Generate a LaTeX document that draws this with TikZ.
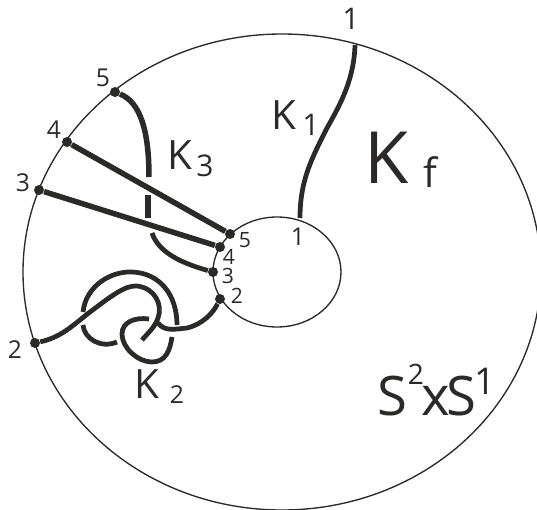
\documentclass[tikz,border=0pt]{standalone}
\usepackage{fontspec}
\setmainfont{Open Sans}
\usepackage{tikz}
\usetikzlibrary{positioning,shapes.geometric}
\definecolor{ink}{HTML}{2B2A29}
\begin{document}
\begin{tikzpicture}[
  x=0.2mm,y=-0.2mm,
  rim/.style={draw=ink,line width=0.27mm},
  strand/.style={draw=ink,line width=1.1mm},
  knot/.style={draw=ink,line width=0.95mm},
  pt/.style={circle,fill=ink,inner sep=0pt,minimum size=2mm},
  num/.style={text=ink,font=\fontsize{14}{16}\selectfont,inner sep=0pt},
  tiny/.style={text=ink,font=\fontsize{12}{14}\selectfont,inner sep=0pt},
  big/.style={text=ink,font=\fontsize{41}{46}\selectfont,inner sep=0pt},
  mid/.style={text=ink,font=\fontsize{23}{26}\selectfont,inner sep=0pt},
  lowr/.style={text=ink,font=\fontsize{17}{20}\selectfont,inner sep=0pt},
  solid3/.style={text=ink,font=\fontsize{31}{36}\selectfont,inner sep=0pt}]
\useasboundingbox (0,0) rectangle (537,510);
\clip (0,0) rectangle (537,510);
% boundary spheres
\node[rim,ellipse,minimum width=518*0.2mm,minimum height=476*0.2mm,inner sep=0pt] (outer) at (282,272) {};
\node[rim,ellipse,minimum width=128*0.2mm,minimum height=110*0.2mm,inner sep=0pt] (inner) at (277,272) {};
% end points
\node[pt] (o5) at (115,92) {};
\node[pt] (o4) at (67,142) {};
\node[pt] (o3) at (39,190) {};
\node[pt] (o2) at (35,343) {};
\node[pt] (i5) at (230,234) {};
\node[pt] (i4) at (220,247) {};
\node[pt] (i3) at (213,272) {};
\node[pt] (i2) at (220,299) {};
% K1
\coordinate (o1) at (355,45);
\coordinate (i1) at (300,218);
\draw[strand,line width=0.95mm] (o1) .. controls (354,80) and (340,105) .. (327,128)
  .. controls (312,158) and (300,180) .. (i1);
% K3
\coordinate (a1) at (149,177);
\coordinate (a2) at (148,195);
\coordinate (a3) at (148,218);
\coordinate (a4) at (152,233);
\draw[strand] (o4) -- (i5);
\draw[strand] (o3) -- (i4);
\draw[strand,line cap=butt] (o5) .. controls (140,102) and (149,130) .. (a1);
\draw[strand,line cap=butt] (a2) -- (a3);
\draw[knot,line cap=butt] (a4) .. controls (159,254) and (185,264) .. (i3);
% K2
\coordinate (b1) at (142,340);
\coordinate (b2) at (83,312);
\coordinate (b3) at (177,325);
\coordinate (b4) at (83,325);
\coordinate (b5) at (117,342);
\coordinate (b6) at (149,319);
\coordinate (b7) at (172,337);
\coordinate (b8) at (158,323);
\draw[knot] (o2) .. controls (62,337) and (73,325) .. (90,312)
  .. controls (110,297) and (125,285) .. (137,286)
  .. controls (155,288) and (163,305) .. (158,318)
  .. controls (155,327) and (148,333) .. (b1);
\draw[knot,line cap=butt] (b2) .. controls (86,285) and (112,271) .. (132,272)
  .. controls (160,273) and (177,295) .. (b3);
\draw[knot,line cap=butt] (b4) .. controls (84,338) and (100,349) .. (b5);
\draw[knot,line cap=butt] (b6) .. controls (135,317) and (122,322) .. (122,334)
  .. controls (122,348) and (138,362) .. (152,362)
  .. controls (166,362) and (170,350) .. (b7);
\draw[knot] (b8) .. controls (165,332) and (175,329) .. (187,328)
  .. controls (203,324) and (213,313) .. (i2);
% labels
\node[num,font=\fontsize{17}{20}\selectfont] (n1) at (351,19) {1};
\node[num] (n5) at (103,78) {5};
\node[num] (n4) at (54,130) {4};
\node[num] (n3) at (23,183) {3};
\node[num] (n2) at (15,350) {2};
\node[num] (m1) at (298,237) {1};
\node[tiny] (m5) at (245,240) {5};
\node[tiny] (m4) at (229,257) {4};
\node[tiny] (m3) at (228,276) {3};
\node[tiny] (m2) at (237,296) {2};
\node[mid] (k1) at (284,115) {K};
\node[lowr] (k1s) at (311,125) {1};
\node[mid] (k3) at (180,155) {K};
\node[lowr] (k3s) at (205,166) {3};
\node[mid] (k2) at (147,384) {K};
\node[num] (k2s) at (177,395) {2};
\node[big] (kf) at (387,158) {K};
\node[mid] (kfs) at (430,172) {f};
\node[solid3] (s2) at (392,396) {S};
\node[lowr,font=\fontsize{16}{18}\selectfont] (s2e) at (416,374) {2};
\node[solid3] (x) at (436,401) {x};
\node[solid3] (s1) at (461,396) {S};
\node[mid,font=\fontsize{21}{24}\selectfont] (s1e) at (485,381) {1};
\end{tikzpicture}
\end{document}
